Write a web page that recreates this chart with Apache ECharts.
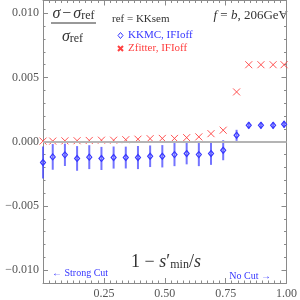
<!DOCTYPE html>
<html><head><meta charset="utf-8">
<script src="https://cdn.jsdelivr.net/npm/echarts@6/dist/echarts.min.js"></script>
<style>html,body{margin:0;padding:0;background:#fff}#c{width:300px;height:300px}</style>
</head><body><div id="c"></div>
<script>
// ---- data ----
const xVals = [0, 0.04, 0.09, 0.14, 0.19, 0.24, 0.29, 0.34, 0.39, 0.44, 0.49, 0.54, 0.59, 0.64, 0.69, 0.74, 0.795, 0.845, 0.895, 0.945, 0.99];
const zfitter = [0.00005, 0.00005, 0.00007, 0.00008, 0.0001, 0.00012, 0.00012, 0.00016, 0.0002, 0.00024, 0.00026, 0.00026, 0.00032, 0.00038, 0.00063, 0.0009, 0.00388, 0.0060, 0.0060, 0.0060, 0.0060];
const kkmc = [-0.00162, -0.00118, -0.00102, -0.0013, -0.0012, -0.0013, -0.00123, -0.00123, -0.00123, -0.00113, -0.00113, -0.001, -0.00092, -0.001, -0.00092, -0.00066, 0.0005, 0.00128, 0.00128, 0.00128, 0.00136];
const kkmcErr = [0.00125, 0.001, 0.00087, 0.00096, 0.00093, 0.0009, 0.00086, 0.00085, 0.0009, 0.00084, 0.00087, 0.0009, 0.00084, 0.0009, 0.00088, 0.00078, 0.00043, 0.00025, 0.00025, 0.00025, 0.00025];
const yTickLabels = [-0.010, -0.005, 0, 0.005, 0.010];
const xTickLabels = [0.25, 0.50, 0.75, 1.00];
const xMajorTicks = [0, 0.25, 0.5, 0.75, 1.0];

const SERIF = '"Liberation Serif", "DejaVu Serif", serif';
const AX = '#8a8a8a';
const BLUE = '#3636ff';
const RED = '#ff4040';
const fmtY = v => (v < 0 ? '\u2212' : '') + Math.abs(v).toFixed(3);

const chart = echarts.init(document.getElementById('c'), null, {renderer: 'canvas'});

function majorAxis(pos, showLabel, isX) {
  return {
    type: 'value', position: pos,
    min: isX ? 0 : -0.011, max: isX ? 1 : 0.011,
    axisLine: {show: true, onZero: false, lineStyle: {color: AX, width: 1}},
    axisTick: {show: true, inside: true, length: 5, lineStyle: {color: AX}, customValues: isX ? xMajorTicks : yTickLabels},
    axisLabel: {show: showLabel, customValues: isX ? xTickLabels : yTickLabels,
      formatter: isX ? (v => v.toFixed(2)) : fmtY,
      fontFamily: SERIF, fontSize: 12, color: '#555', margin: isX ? 5 : 4},
    splitLine: {show: false}
  };
}
function minorAxis(pos, isX) {
  return {
    type: 'value', position: pos,
    min: isX ? 0 : -0.011, max: isX ? 1 : 0.011, interval: isX ? 0.025 : 0.001,
    axisLine: {show: false, onZero: false},
    axisTick: {show: true, inside: true, length: 2.5, lineStyle: {color: AX}},
    axisLabel: {show: false}, splitLine: {show: false}
  };
}

const errData = kkmc.map((v, i) => [xVals[i], v - kkmcErr[i], v + kkmcErr[i]]);

const option = {
  animation: false,
  grid: {left: 43, right: 11.5, top: 0.5, bottom: 16.5, containLabel: false},
  xAxis: [majorAxis('bottom', true, true), minorAxis('bottom', true), majorAxis('top', false, true), minorAxis('top', true)],
  yAxis: [majorAxis('left', true, false), minorAxis('left', false), majorAxis('right', false, false), minorAxis('right', false)],
  legend: {
    orient: 'vertical', left: 112, top: 25, itemWidth: 5, itemHeight: 6, itemGap: 2,
    textStyle: {fontFamily: SERIF, fontSize: 11},
    data: [
      {name: 'KKMC, IFIoff', textStyle: {color: BLUE}, itemStyle: {color: 'rgba(255,255,255,0)', borderColor: BLUE, borderWidth: 1}},
      {name: 'Zfitter, IFIoff', textStyle: {color: RED}}
    ]
  },
  series: [
    {
      type: 'custom', xAxisIndex: 0, yAxisIndex: 0, z: 1,
      data: errData, encode: {x: 0, y: [1, 2]},
      renderItem: function (params, api) {
        const lo = api.coord([api.value(0), api.value(1)]);
        const hi = api.coord([api.value(0), api.value(2)]);
        return {type: 'line', shape: {x1: lo[0], y1: lo[1], x2: hi[0], y2: hi[1]},
          style: {stroke: 'rgba(70,70,255,0.75)', lineWidth: 2}};
      },
      markLine: {silent: true, symbol: 'none', label: {show: false},
        lineStyle: {color: '#b4b4b4', width: 2, type: 'solid'},
        data: [{yAxis: 0}]}
    },
    {
      name: 'KKMC, IFIoff', type: 'scatter', xAxisIndex: 0, yAxisIndex: 0, z: 3,
      symbol: 'diamond', symbolSize: [5, 6],
      itemStyle: {color: 'rgba(255,255,255,0)', borderColor: BLUE, borderWidth: 1.2, opacity: 1},
      data: xVals.map((x, i) => [x, kkmc[i]])
    },
    {
      name: 'Zfitter, IFIoff', type: 'scatter', xAxisIndex: 0, yAxisIndex: 0, z: 3,
      symbol: 'path://M0,0L10,10M10,0L0,10', symbolSize: 7,
      itemStyle: {color: RED, borderColor: RED, borderWidth: 0.9, opacity: 1},
      data: xVals.map((x, i) => [x, zfitter[i]])
    }
  ],
  graphic: [
    {type: 'text', x: 73.5, y: 14, style: {text: '{i|σ}{o|−}{i|σ}{s|ref}', align: 'center', verticalAlign: 'middle',
      rich: {i: {fontFamily: SERIF, fontStyle: 'italic', fontSize: 16, lineHeight: 16, fill: '#333'},
             o: {fontFamily: SERIF, fontSize: 16, lineHeight: 16, fill: '#333', padding: [0, 2, 0, 2]},
             s: {fontFamily: SERIF, fontSize: 12, lineHeight: 12, padding: [9, 0, 0, 0], verticalAlign: 'bottom', fill: '#333'}}}},
    {type: 'line', shape: {x1: 51, y1: 23, x2: 96, y2: 23}, style: {stroke: '#333', lineWidth: 1}},
    {type: 'text', x: 72.5, y: 37, style: {text: '{i|σ}{s|ref}', align: 'center', verticalAlign: 'middle',
      rich: {i: {fontFamily: SERIF, fontStyle: 'italic', fontSize: 16, lineHeight: 16, fill: '#333'},
             s: {fontFamily: SERIF, fontSize: 12, lineHeight: 12, padding: [9, 0, 0, 0], verticalAlign: 'bottom', fill: '#333'}}}},
    {type: 'text', x: 112, y: 19, style: {text: 'ref = KKsem', fontFamily: SERIF, fontSize: 11, fill: '#333', verticalAlign: 'middle'}},
    {type: 'text', x: 288, y: 16, style: {text: '{i|f} = {i|b}, 206GeV', align: 'right', verticalAlign: 'middle',
      fontFamily: SERIF, fontSize: 13, fill: '#333',
      rich: {i: {fontFamily: SERIF, fontStyle: 'italic', fontSize: 13, fill: '#333'}}}},
    {type: 'text', x: 166, y: 262, style: {text: '1 − {i|s}′{s|min}/{i|s}', align: 'center', verticalAlign: 'middle',
      fontFamily: SERIF, fontSize: 18, fill: '#333',
      rich: {i: {fontFamily: SERIF, fontStyle: 'italic', fontSize: 18, lineHeight: 18, fill: '#333'},
             s: {fontFamily: SERIF, fontSize: 12, lineHeight: 12, padding: [10, 0, 0, 0], verticalAlign: 'bottom', fill: '#333'}}}},
    {type: 'text', x: 52, y: 273, style: {text: '← Strong Cut', fontFamily: SERIF, fontSize: 10, fill: BLUE, verticalAlign: 'middle'}},
    {type: 'text', x: 271, y: 276, style: {text: 'No Cut →', align: 'right', fontFamily: SERIF, fontSize: 10, fill: BLUE, verticalAlign: 'middle'}}
  ]
};
chart.setOption(option);
</script>
</body></html>
